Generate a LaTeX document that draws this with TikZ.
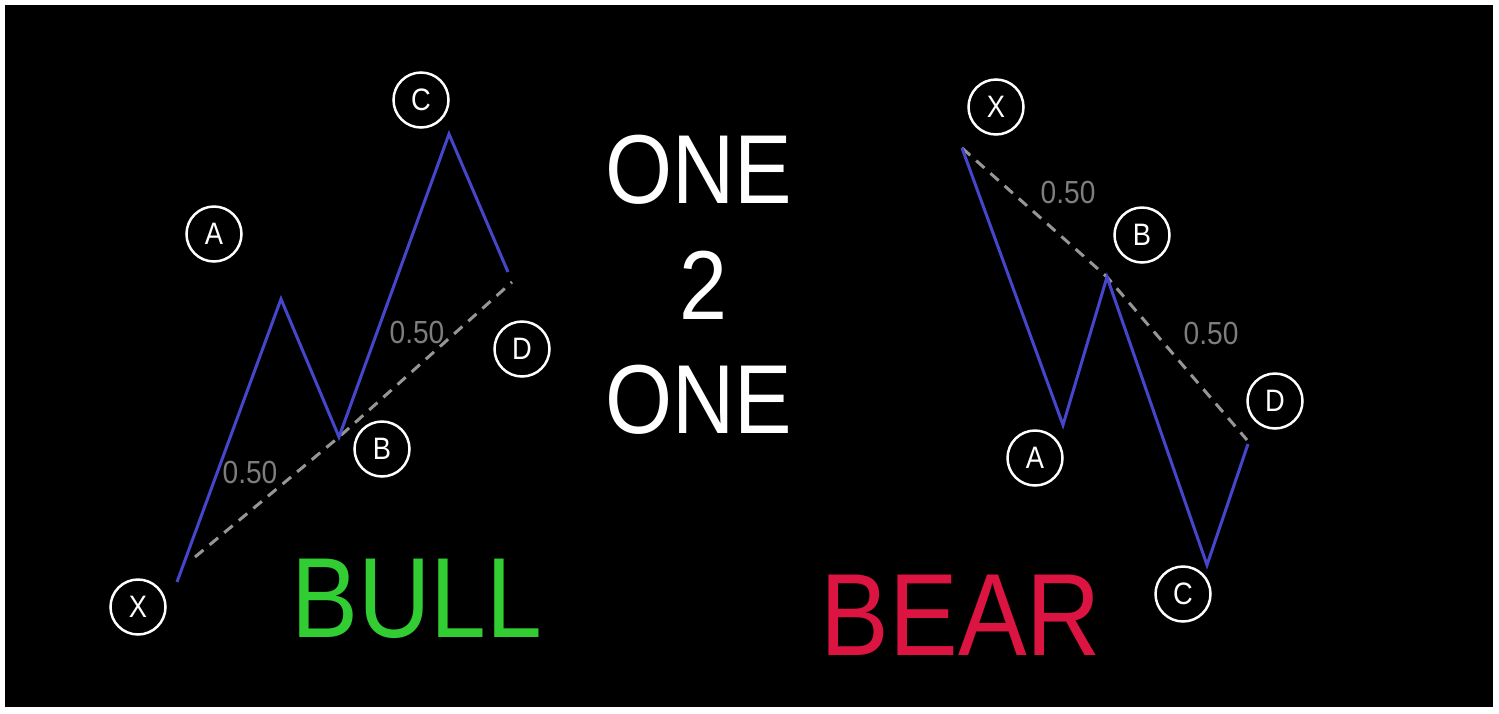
\documentclass[tikz,border=0pt]{standalone}
\usepackage{fontspec}
\setmainfont{Liberation Sans}
\usepackage{graphicx}
\definecolor{wblue}{RGB}{70,70,205}
\definecolor{fibgray}{RGB}{150,150,150}
\definecolor{labgray}{RGB}{125,125,125}
\definecolor{bullgreen}{RGB}{50,205,50}
\definecolor{bearred}{RGB}{220,20,65}
\newcommand\narrowtxt[1]{\scalebox{0.88}[1]{#1}}
\tikzset{
  ptlabel/.style={circle, draw=white, line width=2.5pt, minimum size=55pt, inner sep=0pt,
    text=white, font=\fontsize{31}{31}\selectfont},
  wave/.style={draw=wblue, line width=3pt, line join=miter},
  fib/.style={draw=fibgray, line width=3pt, dash pattern=on 11pt off 8pt},
  ratio/.style={text=labgray, font=\fontsize{32}{32}\selectfont, inner sep=0pt},
  title/.style={text=white, font=\fontsize{98}{98}\selectfont, inner sep=0pt},
  bigword/.style={inner sep=0pt},
}
\begin{document}
\begin{tikzpicture}[x=1pt,y=-1pt]
\useasboundingbox (0,0) rectangle (1499,713);
\fill[white] (0,0) rectangle (1499,713);
\fill[black] (5,5) rectangle (1493,707);

% ---------- BULL ----------
\coordinate (bX) at (177,582);
\coordinate (bA) at (281,299);
\coordinate (bB) at (339,437);
\coordinate (bC) at (449,134);
\coordinate (bD) at (508,272);
\coordinate (bFs) at (195,557);
\coordinate (bFe) at (512,282);
\draw[fib] (bFs) -- (bB) -- (bFe);
\draw[wave] (bX) -- (bA) -- (bB) -- (bC) -- (bD);
\node[ptlabel] (bXl) at (138,607) {\narrowtxt{X}};
\node[ptlabel] (bAl) at (214,234) {\narrowtxt{A}};
\node[ptlabel] (bBl) at (382,449) {\narrowtxt{B}};
\node[ptlabel] (bCl) at (421,100) {\narrowtxt{C}};
\node[ptlabel] (bDl) at (522,349) {\narrowtxt{D}};
\node[ratio] (bR1) at (250,472) {\narrowtxt{0.50}};
\node[ratio] (bR2) at (417,332) {\narrowtxt{0.50}};
\node[bigword, text=bullgreen, font=\fontsize{114}{114}\selectfont] (bull) at (417,599) {\narrowtxt{BULL}};

% ---------- TITLE ----------
\node[title] (t1) at (699,170) {\narrowtxt{ONE}};
\node[title] (t2) at (703,285) {\narrowtxt{2}};
\node[title] (t3) at (699,400) {\narrowtxt{ONE}};

% ---------- BEAR ----------
\coordinate (rX) at (962,148);
\coordinate (rA) at (1063,425);
\coordinate (rB) at (1107,277);
\coordinate (rC) at (1207,565);
\coordinate (rD) at (1248,444);
\coordinate (rFe) at (1247,440);
\draw[fib] (rX) -- (rB) -- (rFe);
\draw[wave] (rX) -- (rA) -- (rB) -- (rC) -- (rD);
\node[ptlabel] (rXl) at (996,107) {\narrowtxt{X}};
\node[ptlabel] (rAl) at (1035,458) {\narrowtxt{A}};
\node[ptlabel] (rBl) at (1142,235) {\narrowtxt{B}};
\node[ptlabel] (rCl) at (1183,594) {\narrowtxt{C}};
\node[ptlabel] (rDl) at (1275,401) {\narrowtxt{D}};
\node[ratio] (rR1) at (1068,192) {\narrowtxt{0.50}};
\node[ratio] (rR2) at (1211,333) {\narrowtxt{0.50}};
\node[bigword, text=bearred, font=\fontsize{117}{117}\selectfont] (bear) at (961,615) {\narrowtxt{BEAR}};
\end{tikzpicture}
\end{document}
